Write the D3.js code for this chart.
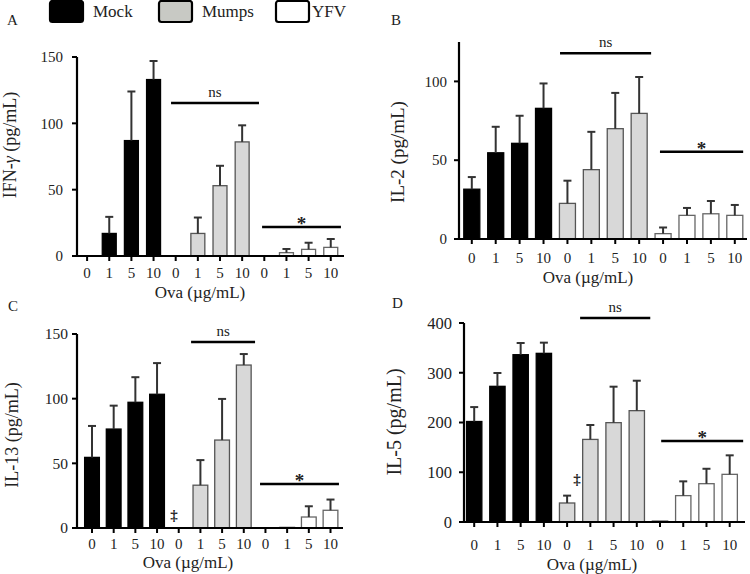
<!DOCTYPE html>
<html>
<head>
<meta charset="utf-8">
<script src="https://cdn.jsdelivr.net/npm/d3@7"></script>
<style>
  html, body { margin: 0; padding: 0; background: #fff; }
  svg { display: block; }
  text { font-family: "Liberation Serif", "DejaVu Serif", serif; fill: #222; }
</style>
</head>
<body>
<svg id="chart" width="750" height="574"></svg>
<script>
// ---------------- DATA ----------------
const groups = ["Mock", "Mumps", "YFV"];
const doses = ["0", "1", "5", "10"];

// IFN-γ (pg/mL): mean and SEM for Mock 0,1,5,10 | Mumps 0,1,5,10 | YFV 0,1,5,10
const ifngMean = [0, 17, 87, 133, 0, 17, 53, 86, 0, 2.5, 5, 6.5];
const ifngSem  = [0, 12.5, 37, 14, 0, 12, 15, 12.5, 0, 2.8, 5, 6.3];

// IL-2 (pg/mL)
const il2Mean = [31.6, 54.7, 60.7, 82.9, 22.6, 44, 70, 79.7, 3.4, 15, 16, 15];
const il2Sem  = [7.7, 16.5, 17.5, 15.8, 14.4, 24, 22.7, 23.1, 3.9, 4.7, 8.1, 6.6];

// IL-13 (pg/mL)
const il13Mean = [54.6, 76.5, 97.2, 103.4, 0, 33.1, 68, 126, 0, 0.5, 8.5, 13.7];
const il13Sem  = [24.3, 18.1, 19.4, 24.1, 0, 19.4, 31.8, 8.5, 0, 0, 8.3, 8.3];

// IL-5 (pg/mL)
const il5Mean = [202, 272.7, 336.3, 339, 38.2, 166, 199.7, 223.8, 2, 53, 77, 95.8];
const il5Sem  = [29, 26.8, 23.5, 21.5, 14.8, 29, 72.3, 60.2, 0, 28.7, 30, 38.2];

// Tick values
const ifngTicks = [0, 50, 100, 150];
const il2Ticks = [0, 50, 100];
const il13Ticks = [0, 50, 100, 150];
const il5Ticks = [0, 100, 200, 300, 400];

// Significance annotations: [label, from category index, to category index, value]
const ifngSig = [["ns", 3.79, 7.76, 115.3], ["*", 7.9, 11.46, 21.9]];
const il2Sig  = [["ns", 3.69, 7.5, 117.8], ["*", 7.87, 11.35, 55.4]];
const il13Sig = [["ns", 4.57, 7.52, 143.8], ["*", 7.75, 11.39, 34]];
const il5Sig  = [["ns", 4.56, 7.58, 410], ["*", 8.05, 11.58, 162.8]];
// Not-detected marks (‡): [category position, value]
const il13Dagger = [[3.78, 10]];
const il5Dagger  = [[4.43, 86]];

// ---------------- STYLE ----------------
const fills   = { Mock: "#000000", Mumps: "#d8d8d8", YFV: "#ffffff" };
const strokes = { Mock: "#000000", Mumps: "#555555", YFV: "#666666" };

const svg = d3.select("#chart");

// ---------------- LEGEND ----------------
const legendPos = [[49, 93], [158, 202], [275, 312]];
groups.forEach((g, i) => {
  const [bx, tx] = legendPos[i];
  svg.append("rect").attr("x", bx + 1).attr("y", 1).attr("width", 33).attr("height", 21)
    .attr("rx", 2.5).attr("fill", g === "Mumps" ? "#c8c9c4" : fills[g])
    .attr("stroke", "#000").attr("stroke-width", 2.2);
  svg.append("text").attr("x", tx).attr("y", 17).attr("font-size", 17).text(g);
});

// ---------------- PANELS ----------------
const categories = [];
groups.forEach(g => doses.forEach(d => categories.push(g + "|" + d)));

const panels = [
  { letter: "A", lx: 7, ly: 25, mean: ifngMean, sem: ifngSem, ticks: ifngTicks, max: 150,
    x0: 77, x1: 344, yb: 256, yt: 57, c0: 87.1, cN: 330.75, pad: 0.37,
    ylab: ["IFN-", "γ", " (pg/mL)"], ylx: 16, yly: 145, ylfs: 18, ytfs: 15, ygap: 14,
    xtfs: 15, xty: 278, xlab: 200, xly: 298, xlfs: 17, sig: ifngSig, dag: [] },
  { letter: "B", lx: 391, ly: 25, mean: il2Mean, sem: il2Sem, ticks: il2Ticks, max: 125,
    x0: 459, x1: 747, yb: 239, yt: 42, c0: 471.8, cN: 734.8, pad: 0.33,
    ylab: ["IL-2 (pg/mL)"], ylx: 404, yly: 152, ylfs: 19, ytfs: 15, ygap: 12,
    xtfs: 15, xty: 263, xlab: 588, xly: 283, xlfs: 17, sig: il2Sig, dag: [] },
  { letter: "C", lx: 8, ly: 311, mean: il13Mean, sem: il13Sem, ticks: il13Ticks, max: 150,
    x0: 77, x1: 343, yb: 528, yt: 334, c0: 92, cN: 330.5, pad: 0.32,
    ylab: ["IL-13 (pg/mL)"], ylx: 18, yly: 435, ylfs: 18, ytfs: 15.5, ygap: 9,
    xtfs: 15, xty: 549, xlab: 188, xly: 568, xlfs: 17, sig: il13Sig, dag: il13Dagger },
  { letter: "D", lx: 392, ly: 308, mean: il5Mean, sem: il5Sem, ticks: il5Ticks, max: 400,
    x0: 464, x1: 745, yb: 522, yt: 323, c0: 474.2, cN: 729.7, pad: 0.34,
    ylab: ["IL-5 (pg/mL)"], ylx: 401, yly: 422, ylfs: 20, ytfs: 16.5, ygap: 12,
    xtfs: 15, xty: 550, xlab: 592, xly: 570, xlfs: 17, sig: il5Sig, dag: il5Dagger }
];

panels.forEach(p => {
  const g = svg.append("g");
  const step = (p.cN - p.c0) / (categories.length - 1);
  const x = d3.scaleBand().domain(categories)
    .range([p.c0 - step / 2, p.cN + step / 2])
    .paddingInner(p.pad).paddingOuter(p.pad / 2);
  const xc = i => p.c0 + i * step; // fractional category position
  const y = d3.scaleLinear().domain([0, p.max]).range([p.yb, p.yt]);

  const rows = categories.map((c, i) => ({
    key: c, group: c.split("|")[0], dose: c.split("|")[1], mean: p.mean[i], sem: p.sem[i]
  }));

  // bars
  g.selectAll("rect.bar").data(rows.filter(d => d.mean > 0)).join("rect")
    .attr("class", "bar")
    .attr("x", d => x(d.key)).attr("width", x.bandwidth())
    .attr("y", d => y(d.mean)).attr("height", d => y(0) - y(d.mean))
    .attr("fill", d => fills[d.group]).attr("stroke", d => strokes[d.group])
    .attr("stroke-width", 1.3);

  // error bars (upper)
  const eb = rows.filter(d => d.sem > 0);
  g.selectAll("line.err").data(eb).join("line")
    .attr("x1", d => x(d.key) + x.bandwidth() / 2).attr("x2", d => x(d.key) + x.bandwidth() / 2)
    .attr("y1", d => y(d.mean)).attr("y2", d => y(d.mean + d.sem))
    .attr("stroke", "#333").attr("stroke-width", 2);
  g.selectAll("line.cap").data(eb).join("line")
    .attr("x1", d => x(d.key) + x.bandwidth() / 2 - 4).attr("x2", d => x(d.key) + x.bandwidth() / 2 + 4)
    .attr("y1", d => y(d.mean + d.sem)).attr("y2", d => y(d.mean + d.sem))
    .attr("stroke", "#333").attr("stroke-width", 2);

  // y axis
  g.append("line").attr("x1", p.x0).attr("x2", p.x0).attr("y1", p.yt).attr("y2", p.yb + 1)
    .attr("stroke", "#000").attr("stroke-width", 2.2);
  p.ticks.forEach(t => {
    g.append("line").attr("x1", p.x0 - 5).attr("x2", p.x0).attr("y1", y(t)).attr("y2", y(t))
      .attr("stroke", "#000").attr("stroke-width", 2);
    g.append("text").attr("x", p.x0 - p.ygap).attr("y", y(t)).attr("dy", "0.35em")
      .attr("text-anchor", "end").attr("font-size", p.ytfs).text(t);
  });

  // x axis
  g.append("line").attr("x1", p.x0 - 1).attr("x2", p.x1).attr("y1", p.yb).attr("y2", p.yb)
    .attr("stroke", "#000").attr("stroke-width", 2.2);
  rows.forEach(d => {
    const cx = x(d.key) + x.bandwidth() / 2;
    g.append("line").attr("x1", cx).attr("x2", cx).attr("y1", p.yb).attr("y2", p.yb + 5)
      .attr("stroke", "#000").attr("stroke-width", 2);
    g.append("text").attr("x", cx).attr("y", p.xty).attr("text-anchor", "middle")
      .attr("font-size", p.xtfs).text(d.dose);
  });

  // axis titles
  g.append("text").attr("x", p.xlab).attr("y", p.xly).attr("text-anchor", "middle")
    .attr("font-size", p.xlfs).text("Ova (µg/mL)");
  const yl = g.append("text").attr("transform", `translate(${p.ylx},${p.yly}) rotate(-90)`)
    .attr("text-anchor", "middle").attr("font-size", p.ylfs);
  p.ylab.forEach((s, i) => {
    const ts = yl.append("tspan").text(s);
    if (s === "γ") ts.attr("font-style", "italic");
  });

  // panel letter
  g.append("text").attr("x", p.lx).attr("y", p.ly).attr("font-size", 15).text(p.letter);

  // significance
  p.sig.forEach(([lab, a, b, v]) => {
    g.append("line").attr("x1", xc(a)).attr("x2", xc(b)).attr("y1", y(v)).attr("y2", y(v))
      .attr("stroke", "#000").attr("stroke-width", 2.5);
    const t = g.append("text").attr("x", (xc(a) + xc(b)) / 2).attr("text-anchor", "middle");
    if (lab === "*") {
      t.attr("y", y(v) + 3).attr("font-size", 19).attr("font-weight", "bold").text("*");
    } else {
      t.attr("y", y(v) - 6).attr("font-size", 15).text(lab);
    }
  });
  p.dag.forEach(([a, v]) => {
    g.append("text").attr("x", xc(a)).attr("y", y(v)).attr("dy", "0.35em")
      .attr("text-anchor", "middle").attr("font-size", 15).attr("font-weight", "bold").text("‡");
  });
});
</script>
</body>
</html>
